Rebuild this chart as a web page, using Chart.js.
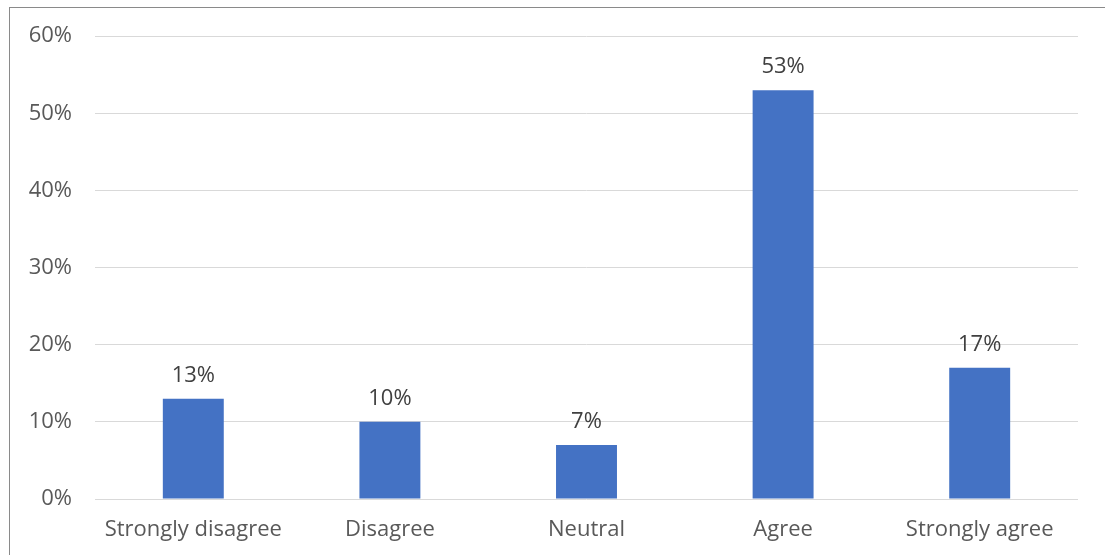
<!DOCTYPE html>
<html>
  <head>
    <title>Survey Responses</title>
    <script src="https://cdn.jsdelivr.net/npm/chart.js"></script>
    <style>
      body,
      html {
        margin: 0;
        width: 100%;
        height: 100%;
        overflow: hidden;
        background-color: white;
      }
      #wrap {
        position: relative;
        width: 1105px;
        height: 555px;
      }
      /* frame around the chart, open on the right and bottom */
      #frame {
        position: absolute;
        left: 9px;
        top: 7px;
        right: 0;
        bottom: -5px;
        border-left: 1px solid #8a8a8a;
        border-top: 1px solid #8a8a8a;
        pointer-events: none;
      }
      canvas {
        position: absolute;
        left: 0;
        top: 0;
      }
    </style>
  </head>
  <body>
    <div id="wrap">
      <canvas id="chartCanvas" width="1105" height="555"></canvas>
      <div id="frame"></div>
    </div>
    <script>
      const categories = ["Strongly disagree", "Disagree", "Neutral", "Agree", "Strongly agree"];
      const shares = [13, 10, 7, 53, 17];
      const yTicks = [0, 10, 20, 30, 40, 50, 60];

      const FONT = "'Open Sans', sans-serif";

      // writes the percentage above each bar
      const valueLabels = {
        id: "valueLabels",
        afterDatasetsDraw(chart) {
          const ctx = chart.ctx;
          const meta = chart.getDatasetMeta(0);
          ctx.save();
          ctx.font = "22px " + FONT;
          ctx.fillStyle = "#404040";
          ctx.textAlign = "center";
          ctx.textBaseline = "alphabetic";
          meta.data.forEach(function (bar, i) {
            ctx.fillText(shares[i] + "%", bar.x, bar.y - 17);
          });
          ctx.restore();
        },
      };

      var ctx = document.getElementById("chartCanvas");

      var chart = new Chart(ctx, {
        type: "bar",
        data: {
          labels: categories,
          datasets: [
            {
              data: shares,
              backgroundColor: "#4472C4",
              barPercentage: 0.31,
              categoryPercentage: 1,
            },
          ],
        },
        options: {
          responsive: false,
          animation: false,
          devicePixelRatio: 1,
          layout: {
            padding: { top: 33, right: 27, left: 0, bottom: 0 },
          },
          scales: {
            x: {
              grid: { display: false, drawTicks: false },
              border: { display: false },
              ticks: {
                color: "#595959",
                font: { family: FONT, size: 22 },
                padding: 18,
                maxRotation: 0,
              },
              afterFit: function (scale) {
                scale.height = 56;
              },
            },
            y: {
              min: 0,
              max: 60,
              afterBuildTicks: function (scale) {
                scale.ticks = yTicks.map(function (v) {
                  return { value: v };
                });
              },
              grid: { color: "#d9d9d9", lineWidth: 1, drawTicks: false },
              border: { display: false },
              ticks: {
                color: "#595959",
                font: { family: FONT, size: 22 },
                padding: 23,
                callback: function (v) {
                  return v + "%";
                },
              },
              afterFit: function (scale) {
                scale.width = 95;
              },
            },
          },
          plugins: {
            legend: { display: false },
            tooltip: { enabled: false },
          },
        },
        plugins: [valueLabels],
      });
    </script>
  </body>
</html>
